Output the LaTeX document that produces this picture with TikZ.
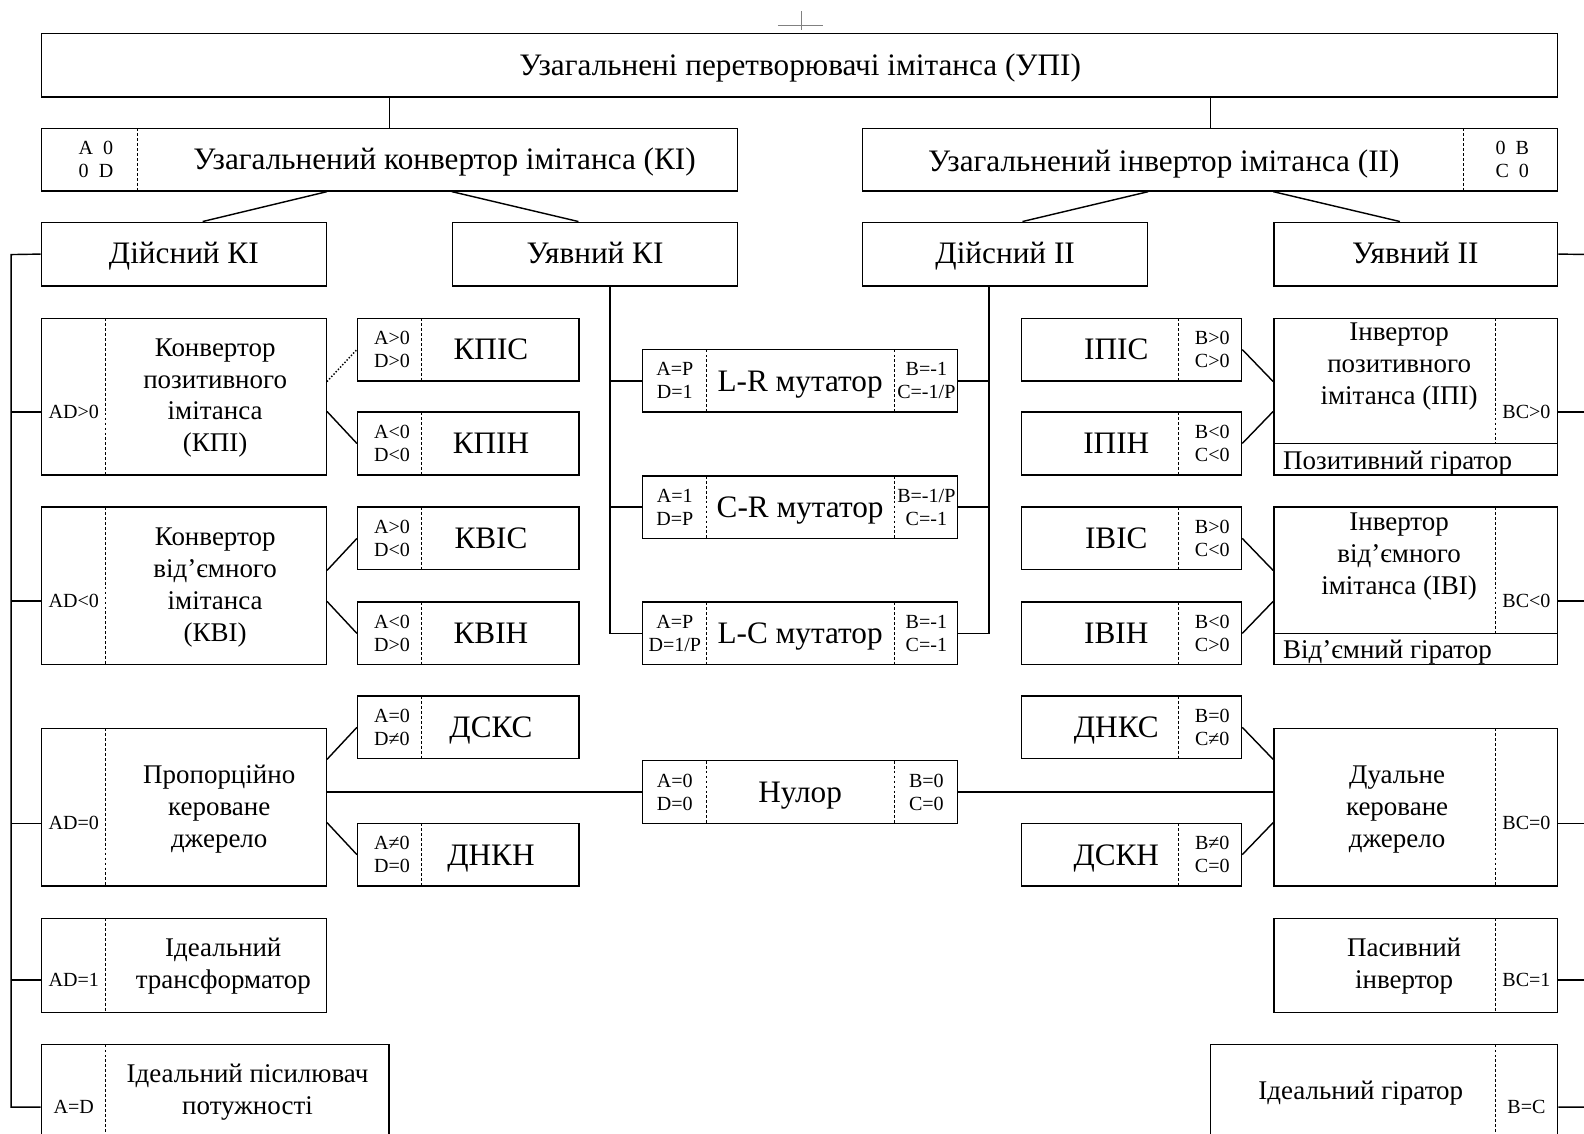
\documentclass[tikz,border=0pt]{standalone}
\usepackage{fontspec}
\setmainfont{Liberation Serif}
\usetikzlibrary{fit}

\begin{document}
\begin{tikzpicture}[x=0.02cm,y=-0.02cm,
  box/.style={draw,line width=0.8pt,inner sep=0pt},
  sep/.style={line width=0.6pt,dash pattern=on 1.6pt off 1.2pt},
  link/.style={line width=0.8pt},
  big/.style={font=\fontsize{17.6}{20}\selectfont,text height=12.3pt,text depth=0.6pt},
  mid/.style={font=\fontsize{15.2}{18}\selectfont,align=center},
  cond/.style={font=\fontsize{11.3}{13}\selectfont,align=center}]
\useasboundingbox (0,0) rectangle (1568,1122);
\clip (0,0) rectangle (1568,1122);

% top levels
\draw[gray,line width=0.6pt] (770,25.5) -- (815,25.5) (793,11) -- (793,30);
\node[box,fit={(41,33) (1542,96)}] (upi) {};
\node[big] at (792,64) {Узагальнені перетворювачі імітанса (УПІ)};

\node[box,fit={(41,127) (730,189)}] (ki) {};
\draw[sep] (136,127) -- (136,189);
\node[cond] at (95,158) {A~ 0\\0~ D};
\node[big] at (440,158) {Узагальнений конвертор імітанса (КІ)};

\node[box,fit={(854,127) (1542,189)}] (ii) {};
\draw[sep] (1449,127) -- (1449,189);
\node[cond] at (1497,158) {0~ B\\C~ 0};
\node[big] at (1152,159) {Узагальнений інвертор імітанса (ІІ)};

\node[box,fit={(41,220) (323,283)}] (dki) {};
\node[big] at (182,251) {Дійсний КІ};
\node[box,fit={(448,220) (730,283)}] (uki) {};
\node[big] at (589,251) {Уявний КІ};
\node[box,fit={(854,220) (1136,283)}] (ddii) {};
\node[big] at (995,251) {Дійсний ІІ};
\node[box,fit={(1261,220) (1542,283)}] (uii) {};
\node[big] at (1401,251) {Уявний ІІ};

% left column
\foreach \n/\y/\h/\c/\cy/\tx/\ty/\t in {
  kpi/315/155/AD>0/408/213/394/{Конвертор\\позитивного\\імітанса\\(КПІ)},
  kvi/502/156/AD<0/595/213/582/{Конвертор\\від’ємного\\імітанса\\(КВІ)},
  pks/721/156/AD=0/815/217/801/{Пропорційно\\кероване\\джерело},
  itr/909/93/AD=1/970/221/956/{Ідеальний\\трансформатор}}{
  \node[box,fit={(41,\y) (323,\y+\h)}] (\n) {};
  \draw[sep] (104,\y) -- (104,\y+\h);
  \node[cond] (\n-c) at (73,\cy) {\c};
  \node[mid] at (\tx,\ty) {\t};
}
\node[box,fit={(41,1034) (385,1158)}] (ipa) {};
\draw[sep] (104,1034) -- (104,1158);
\node[cond] (ipa-c) at (73,1096) {A=D};
\node[mid] at (245,1081) {Ідеальний пісилювач\\потужності};

\foreach \n/\y/\c/\t in {
  kpis/315/{A>0\\D>0}/КПІС, kpin/408/{A<0\\D<0}/КПІН,
  kvis/502/{A>0\\D<0}/КВІС, kvin/596/{A<0\\D>0}/КВІН,
  dsks/689/{A=0\\D≠0}/ДСКС, dnkn/815/{A≠0\\D=0}/ДНКН}{
  \node[box,fit={(354,\y) (573,\y+62)}] (\n) {};
  \draw[sep] (417,\y) -- (417,\y+62);
  \node[cond] at (388,\y+31) {\c};
  \node[big] at (486,\y+31) {\t};
}

% mutators
\foreach \n/\y/\l/\r/\t in {
  lr/346/{A=P\\D=1}/{B=-1\\C=-1/P}/L-R мутатор,
  cr/471/{A=1\\D=P}/{B=-1/P\\C=-1}/C-R мутатор,
  lc/596/{A=P\\D=1/P}/{B=-1\\C=-1}/L-C мутатор,
  nul/753/{A=0\\D=0}/{B=0\\C=0}/Нулор}{
  \node[box,fit={(636,\y) (948,\y+62)}] (\n) {};
  \draw[sep] (699,\y) -- (699,\y+62) (885,\y) -- (885,\y+62);
  \node[cond] at (668,\y+31) {\l};
  \node[cond] at (917,\y+31) {\r};
  \node[big] at (792,\y+31) {\t};
}

% right column
\foreach \n/\y/\c/\t in {
  ipis/315/{B>0\\C>0}/ІПІС, ipin/408/{B<0\\C<0}/ІПІН,
  ivis/502/{B>0\\C<0}/ІВІС, ivin/596/{B<0\\C>0}/ІВІН,
  dnks/689/{B=0\\C≠0}/ДНКС, dskn/815/{B≠0\\C=0}/ДСКН}{
  \node[box,fit={(1011,\y) (1229,\y+62)}] (\n) {};
  \draw[sep] (1167,\y) -- (1167,\y+62);
  \node[cond] at (1200,\y+31) {\c};
  \node[big] at (1105,\y+31) {\t};
}

\foreach \n/\y/\h/\c/\cy/\tx/\ty/\t in {
  ipi/315/155/BC>0/408/1385/363/{Інвертор\\позитивного\\імітанса (ІПІ)},
  ivi/502/156/BC<0/595/1385/551/{Інвертор\\від’ємного\\імітанса (ІВІ)},
  dks/721/156/BC=0/815/1383/801/{Дуальне\\кероване\\джерело},
  pin/909/93/BC=1/970/1390/956/{Пасивний\\інвертор}}{
  \node[box,fit={(1261,\y) (1542,\y+\h)}] (\n) {};
  \node[cond] (\n-c) at (1511,\cy) {\c};
  \node[mid] at (\tx,\ty) {\t};
}
\draw[sep] (1480,315) -- (1480,439) (1480,502) -- (1480,627)
  (1480,721) -- (1480,877) (1480,909) -- (1480,1002);
\draw[link] (1261,439) -- (1542,439) (1261,627) -- (1542,627);
\node[mid,anchor=west] at (1264,458) {Позитивний гіратор};
\node[mid,anchor=west] at (1264,646) {Від’ємний гіратор};

\node[box,fit={(1198,1034) (1542,1158)}] (igy) {};
\draw[sep] (1480,1034) -- (1480,1158);
\node[cond] (igy-c) at (1511,1096) {B=C};
\node[mid] at (1347,1082) {Ідеальний гіратор};

% connectors
\draw[link] (upi.south -| ki.north) -- (ki.north);
\draw[link] (upi.south -| ii.north) -- (ii.north);
\draw[link] (ki.south -| dki.east) -- (dki.60);
\draw[link] (ki.south -| uki.west) -- (uki.117);
\draw[link] (ii.south -| ddii.east) -- (ddii.62);
\draw[link] (ii.south -| uii.west) -- (uii.116);

\coordinate (lbus) at (11,252);
\draw[link] (dki.west) -- (lbus) -- (lbus |- ipa-c) -- (ipa.west |- ipa-c);
\foreach \b in {kpi,kvi,pks,itr}
  \draw[link] (lbus |- \b-c) -- (\b.west |- \b-c);

\coordinate (rbus) at (1576,252);
\draw[link] (uii.east) -- (rbus) -- (rbus |- igy-c) -- (igy.east |- igy-c);
\foreach \b in {ipi,ivi,dks,pin}
  \draw[link] (rbus |- \b-c) -- (\b.east |- \b-c);

\coordinate (mbus) at (604,283);
\draw[link] (mbus) -- (mbus |- lc.west) -- (lc.west);
\draw[link] (mbus |- lr.west) -- (lr.west) (mbus |- cr.west) -- (cr.west);
\coordinate (nbus) at (979,283);
\draw[link] (nbus) -- (nbus |- lc.east) -- (lc.east);
\draw[link] (nbus |- lr.east) -- (lr.east) (nbus |- cr.east) -- (cr.east);

\draw[link,densely dotted] (kpi.east |- kpis.south) -- (kpis.west);
\draw[link] (kpi.east |- kpin.north) -- (kpin.west);
\draw[link] (kvi.east |- kvis.south) -- (kvis.west);
\draw[link] (kvi.east |- kvin.north) -- (kvin.west);
\draw[link] (pks.east |- dsks.south) -- (dsks.west);
\draw[link] (pks.east |- dnkn.north) -- (dnkn.west);
\draw[link] (pks.east |- nul.west) -- (nul.west);
\draw[link] (nul.east) -- (dks.west |- nul.east);

\draw[link] (ipis.east) -- (ipi.west |- ipis.south);
\draw[link] (ipin.east) -- (ipi.west |- ipin.north);
\draw[link] (ivis.east) -- (ivi.west |- ivis.south);
\draw[link] (ivin.east) -- (ivi.west |- ivin.north);
\draw[link] (dnks.east) -- (dks.west |- dnks.south);
\draw[link] (dskn.east) -- (dks.west |- dskn.north);
\end{tikzpicture}
\end{document}
